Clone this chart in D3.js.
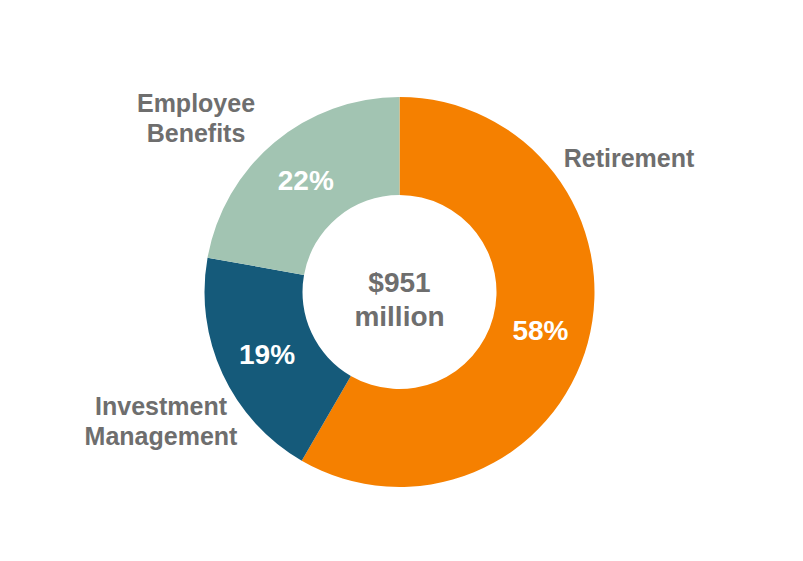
<!DOCTYPE html>
<html>
<head>
<meta charset="utf-8">
<script src="https://cdn.jsdelivr.net/npm/d3@7"></script>
<style>
  body { margin: 0; background: #fff; }
  text { font-family: "Liberation Sans", Arial, sans-serif; font-weight: bold; }
</style>
</head>
<body>
<div id="chart"></div>
<script>
// segment data ($ millions)
var segments = ["Retirement", "Investment Management", "Employee Benefits"];
var revenue = [555, 185, 211];
var pctLabels = ["58%", "19%", "22%"];
var labelLines = [["Retirement"], ["Investment", "Management"], ["Employee", "Benefits"]];
var centerLines = ["$951", "million"];

var colors = ["#f58000", "#155a7a", "#a2c4b2"];

var width = 803, height = 561,
    cx = 399.5, cy = 292,
    outerR = 195, innerR = 97;

// outer label anchors (offset from center of donut)
var labelPos = [[229.5, -134.5], [-238.5, 129], [-203.5, -174.5]];

var svg = d3.select("#chart")
    .append("svg")
    .attr("width", width)
    .attr("height", height)
    .append("g")
    .attr("transform", "translate(" + cx + "," + cy + ")");

var data = segments.map(function(s, i){
  return {name: s, value: revenue[i], pct: pctLabels[i], lines: labelLines[i], color: colors[i], pos: labelPos[i]};
});

var pie = d3.pie()
    .sort(null)
    .value(function(d){ return d.value; });

var arc = d3.arc()
    .innerRadius(innerR)
    .outerRadius(outerR);

var arcs = pie(data);

svg.selectAll("path.slice")
  .data(arcs)
  .enter()
  .append("path")
  .attr("class", "slice")
  .attr("d", arc)
  .attr("fill", function(d){ return d.data.color; });

// percent labels inside the ring
svg.selectAll("text.pct")
  .data(arcs)
  .enter()
  .append("text")
  .attr("class", "pct")
  .attr("transform", function(d){ return "translate(" + arc.centroid(d) + ")"; })
  .attr("dy", "0.36em")
  .attr("text-anchor", "middle")
  .style("font-size", "28px")
  .style("fill", "#fff")
  .text(function(d){ return d.data.pct; });

// segment names outside
var lbl = svg.selectAll("text.name")
  .data(data)
  .enter()
  .append("text")
  .attr("class", "name")
  .attr("text-anchor", "middle")
  .style("font-size", "25px")
  .style("fill", "#6e6e6e")
  .attr("transform", function(d){ return "translate(" + d.pos + ")"; });

lbl.selectAll("tspan")
  .data(function(d){ return d.lines.map(function(l, i){ return {t: l, i: i, n: d.lines.length}; }); })
  .enter()
  .append("tspan")
  .attr("x", 0)
  .attr("y", function(d){ return (d.i - (d.n - 1) / 2) * 30; })
  .attr("dy", "0.36em")
  .text(function(d){ return d.t; });

// center total
svg.append("text")
  .attr("text-anchor", "middle")
  .style("font-size", "28px")
  .style("fill", "#6e6e6e")
  .selectAll("tspan")
  .data(centerLines)
  .enter()
  .append("tspan")
  .attr("x", 0)
  .attr("y", function(d, i){ return 7 + (i - 0.5) * 34; })
  .attr("dy", "0.36em")
  .text(function(d){ return d; });
</script>
</body>
</html>
